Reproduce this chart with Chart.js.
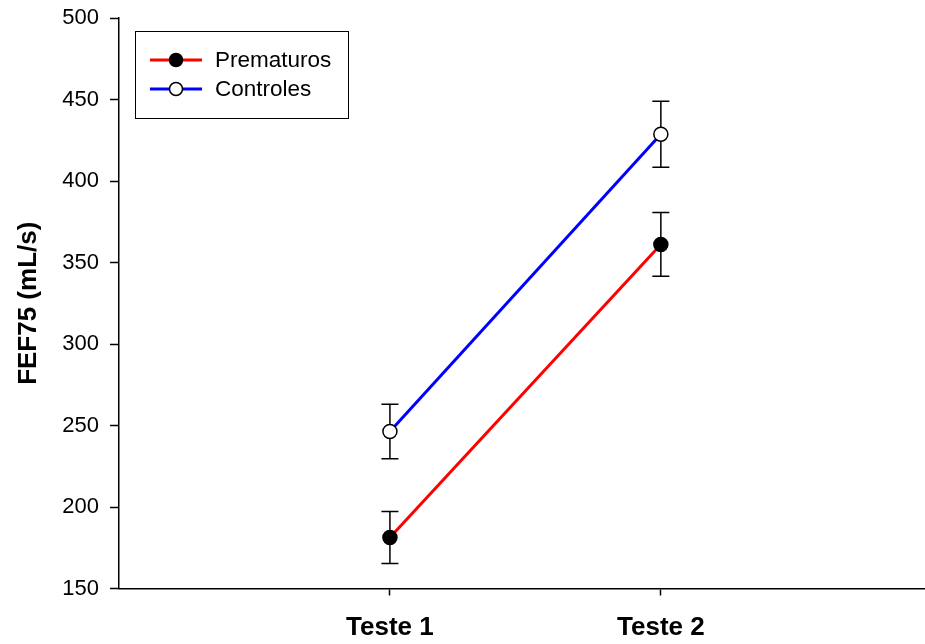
<!DOCTYPE html>
<html>
<head>
<meta charset="utf-8">
<script src="https://cdn.jsdelivr.net/npm/chart.js@4/dist/chart.umd.min.js"></script>
<style>
	html, body { margin: 0; padding: 0; background: #fff; }
	#wrap { width: 925px; height: 644px; }
</style>
</head>
<body>
<div id="wrap"><canvas id="fef-chart"></canvas></div>
<script>
// data
const categories = ['Teste 1', 'Teste 2']
const xPositions = [1, 2]
const prematuros = [181.3, 361.1]
const prematurosErr = [16, 19.5]
const controles = [246.3, 428.7]
const controlesErr = [16.7, 20.3]
const yTicks = [150, 200, 250, 300, 350, 400, 450, 500]

const toPoints = values => values.map((v, i) => ({ x: xPositions[i], y: v }))

// error bars drawn under the markers
const errorBars = {
	id: 'errorBars',
	beforeDatasetsDraw(chart) {
		const { ctx, scales } = chart
		ctx.save()
		ctx.strokeStyle = '#000'
		ctx.lineWidth = 1.5
		chart.data.datasets.forEach(ds => {
			ds.data.forEach((p, i) => {
				const x = scales.x.getPixelForValue(p.x)
				const top = scales.y.getPixelForValue(p.y + ds.err[i])
				const bot = scales.y.getPixelForValue(p.y - ds.err[i])
				ctx.beginPath()
				ctx.moveTo(x, top)
				ctx.lineTo(x, bot)
				ctx.moveTo(x - 8.5, top)
				ctx.lineTo(x + 8.5, top)
				ctx.moveTo(x - 8.5, bot)
				ctx.lineTo(x + 8.5, bot)
				ctx.stroke()
			})
		})
		ctx.restore()
	},
}

// boxed legend like the original figure
const boxLegend = {
	id: 'boxLegend',
	afterDraw(chart) {
		const { ctx } = chart
		ctx.save()
		ctx.strokeStyle = '#000'
		ctx.lineWidth = 1
		ctx.strokeRect(135.5, 31.5, 213, 87)
		ctx.font = '22.5px "Liberation Sans", Arial, sans-serif'
		ctx.textBaseline = 'middle'
		chart.data.datasets.forEach((ds, i) => {
			const y = 60 + i * 29
			ctx.strokeStyle = ds.borderColor
			ctx.lineWidth = 3
			ctx.beginPath()
			ctx.moveTo(150, y)
			ctx.lineTo(202, y)
			ctx.stroke()
			ctx.beginPath()
			ctx.arc(176, y, 6.5, 0, Math.PI * 2)
			ctx.fillStyle = ds.pointBackgroundColor
			ctx.fill()
			ctx.strokeStyle = '#000'
			ctx.lineWidth = 1.5
			ctx.stroke()
			ctx.fillStyle = '#000'
			ctx.fillText(ds.label, 215, y + 1)
		})
		ctx.restore()
	},
}

const chartData = {
	datasets: [
		{
			label: 'Prematuros',
			data: toPoints(prematuros),
			err: prematurosErr,
			borderColor: '#ff0000',
			borderWidth: 3,
			pointBackgroundColor: '#000',
			pointBorderColor: '#000',
			pointBorderWidth: 1.5,
			pointRadius: 7,
		},
		{
			label: 'Controles',
			data: toPoints(controles),
			err: controlesErr,
			borderColor: '#0000ff',
			borderWidth: 3,
			pointBackgroundColor: '#fff',
			pointBorderColor: '#000',
			pointBorderWidth: 1.5,
			pointRadius: 7,
		},
	],
}

const config = {
	type: 'line',
	data: chartData,
	plugins: [errorBars, boxLegend],
	options: {
		responsive: true,
		maintainAspectRatio: false,
		animation: false,
		layout: { autoPadding: false, padding: { top: 18, right: 0, bottom: 0, left: 0 } },
		plugins: { legend: { display: false }, tooltip: { enabled: false } },
		scales: {
			x: {
				type: 'linear',
				min: 0,
				max: 2.975,
				afterBuildTicks: axis => {
					axis.ticks = xPositions.map(v => ({ value: v }))
				},
				afterFit: scale => {
					scale.height = 55.5
					scale.paddingLeft = 0
					scale.paddingRight = 0
				},
				ticks: {
					color: '#000',
					padding: 17,
					font: { family: '"Liberation Sans", Arial', size: 26, weight: 'bold' },
					callback: value => categories[xPositions.indexOf(value)],
				},
				grid: { drawOnChartArea: false, color: '#000', tickLength: 7, tickWidth: 1.5 },
				border: { color: '#000', width: 1.5 },
			},
			y: {
				min: 150,
				max: 500,
				afterBuildTicks: axis => {
					axis.ticks = yTicks.map(v => ({ value: v }))
				},
				afterFit: scale => {
					scale.width = 119
					scale.paddingTop = 0
					scale.paddingBottom = 0
				},
				ticks: {
					color: '#000',
					padding: 11,
					font: { family: '"Liberation Sans", Arial', size: 22 },
				},
				grid: { drawOnChartArea: false, color: '#000', tickLength: 9, tickWidth: 1.5 },
				border: { color: '#000', width: 1.5 },
				title: {
					display: true,
					text: 'FEF75 (mL/s)',
					color: '#000',
					padding: { top: 13, bottom: 18 },
					font: { family: '"Liberation Sans", Arial', size: 26, weight: 'bold' },
				},
			},
		},
	},
}

const canvaRef = document.querySelector('#fef-chart')
const fefChart = new Chart(canvaRef, config)
</script>
</body>
</html>
